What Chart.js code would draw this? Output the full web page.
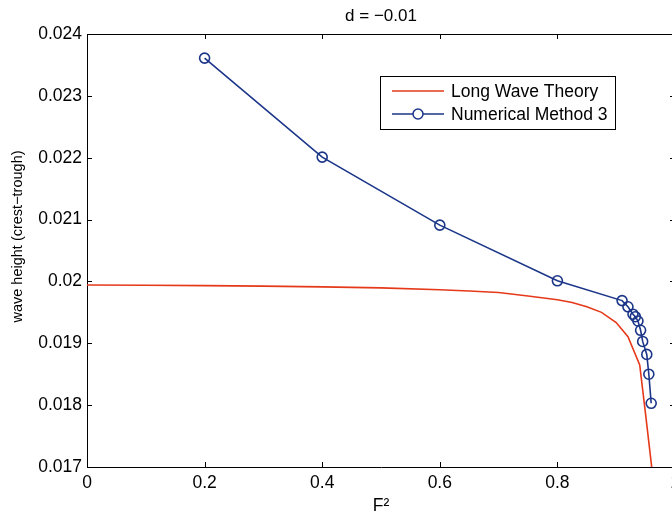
<!DOCTYPE html>
<html>
<head>
<meta charset="utf-8">
<script src="https://cdn.jsdelivr.net/npm/chart.js@4.4.1/dist/chart.umd.min.js"></script>
<style>
  html, body { margin: 0; padding: 0; background: #fff; overflow: hidden; }
  canvas { display: block; }
</style>
</head>
<body>
<canvas id="grafico" width="690" height="519"></canvas>
<script>
// long wave theory curve
const lwtF2 = [0, 0.1, 0.2, 0.3, 0.4, 0.5, 0.6, 0.65, 0.7, 0.75, 0.8, 0.825, 0.85, 0.875, 0.9, 0.92, 0.94, 0.95, 0.96, 0.962];
const lwtHeight = [0.019942, 0.019938, 0.019932, 0.019924, 0.019912, 0.019895, 0.019865, 0.019845, 0.01982, 0.019765, 0.019705, 0.01966, 0.01959, 0.0195, 0.019335, 0.019105, 0.01865, 0.01785, 0.01703, 0.0167];

// numerical method 3 points
const nm3F2 = [0.2, 0.4, 0.6, 0.8, 0.91, 0.92, 0.9285, 0.9325, 0.937, 0.9415, 0.945, 0.952, 0.9555, 0.9595];
const nm3Height = [0.02361, 0.02201, 0.02091, 0.02001, 0.01969, 0.01959, 0.01947, 0.01943, 0.01936, 0.01921, 0.01903, 0.01882, 0.0185, 0.01803];

const xTickLabels = ['0', '0.2', '0.4', '0.6', '0.8', '1'];
const yTickLabels = ['0.017', '0.018', '0.019', '0.02', '0.021', '0.022', '0.023', '0.024'];

const RED = '#e5391a';
const BLUE = '#1b3689';
const FONT = 'Liberation Sans, Arial, sans-serif';

const pares = (xs, ys) => xs.map((x, i) => ({ x: x, y: ys[i] }));

// ticks para dentro + caixa + legenda + rotulo y (estilo matlab)
const estiloMatlab = {
  id: 'estiloMatlab',
  afterDraw(chart) {
    const ctx = chart.ctx;
    const ca = chart.chartArea;
    const sx = chart.scales.x, sy = chart.scales.y;
    const len = 5;
    ctx.save();
    ctx.strokeStyle = '#000';
    ctx.lineWidth = 1;
    ctx.beginPath();
    ctx.moveTo(ca.left, ca.top + 0.5);
    ctx.lineTo(ca.right, ca.top + 0.5);
    ctx.moveTo(ca.right - 0.5, ca.top);
    ctx.lineTo(ca.right - 0.5, ca.bottom);
    sx.ticks.forEach(t => {
      const px = Math.round(sx.getPixelForValue(t.value)) + 0.5;
      ctx.moveTo(px, ca.bottom); ctx.lineTo(px, ca.bottom - len);
      ctx.moveTo(px, ca.top); ctx.lineTo(px, ca.top + len);
    });
    sy.ticks.forEach(t => {
      const py = Math.round(sy.getPixelForValue(t.value)) + 0.5;
      ctx.moveTo(ca.left, py); ctx.lineTo(ca.left + len, py);
      ctx.moveTo(ca.right, py); ctx.lineTo(ca.right - len, py);
    });
    ctx.stroke();

    // rotulo do eixo y
    ctx.save();
    ctx.translate(18, (ca.top + ca.bottom) / 2 - 14);
    ctx.rotate(-Math.PI / 2);
    ctx.fillStyle = '#000';
    ctx.font = '14.5px ' + FONT;
    ctx.textAlign = 'center';
    ctx.textBaseline = 'middle';
    ctx.fillText('wave height (crest\u2212trough)', 0, 0);
    ctx.restore();

    // legenda
    const bx = ca.left + 293, by = ca.top + 42, bw = 235, bh = 53;
    ctx.fillStyle = '#fff';
    ctx.fillRect(bx, by, bw, bh);
    ctx.strokeRect(bx + 0.5, by + 0.5, bw, bh);
    ctx.font = '17.5px ' + FONT;
    ctx.textBaseline = 'middle';
    chart.data.datasets.forEach((ds, i) => {
      const ly = by + 15 + i * 23;
      ctx.strokeStyle = ds.borderColor;
      ctx.lineWidth = 1.5;
      ctx.beginPath();
      ctx.moveTo(bx + 12, ly);
      ctx.lineTo(bx + 64, ly);
      ctx.stroke();
      if (ds.pointRadius > 0) {
        ctx.beginPath();
        ctx.arc(bx + 38, ly, ds.pointRadius, 0, Math.PI * 2);
        ctx.fillStyle = '#fff';
        ctx.fill();
        ctx.stroke();
      }
      ctx.fillStyle = '#000';
      ctx.fillText(ds.label, bx + 71, ly + 1);
    });
    ctx.restore();
  }
};

const ctx = document.getElementById('grafico').getContext('2d');

const grafico = new Chart(ctx, {
  type: 'line',
  data: {
    datasets: [{
      label: 'Long Wave Theory',
      data: pares(lwtF2, lwtHeight),
      borderColor: RED,
      borderWidth: 1.6,
      pointRadius: 0,
      tension: 0,
      fill: false
    }, {
      label: 'Numerical Method 3',
      data: pares(nm3F2, nm3Height),
      borderColor: BLUE,
      borderWidth: 1.6,
      pointRadius: 5,
      pointBorderWidth: 1.6,
      pointBackgroundColor: 'rgba(0,0,0,0)',
      pointBorderColor: BLUE,
      tension: 0,
      fill: false
    }]
  },
  options: {
    responsive: false,
    animation: false,
    layout: { padding: { left: 0, right: 15, top: 0, bottom: 0 } },
    plugins: {
      legend: { display: false },
      tooltip: { enabled: false },
      title: {
        display: true,
        text: 'd = \u22120.01',
        fullSize: false,
        color: '#000',
        font: { family: FONT, size: 17, weight: 'normal' },
        padding: { top: 6, bottom: 7.6 }
      }
    },
    scales: {
      x: {
        type: 'linear',
        min: 0,
        max: 1,
        grid: { display: false, drawTicks: false },
        border: { display: true, color: '#000', width: 1 },
        ticks: {
          stepSize: 0.2,
          padding: 6,
          color: '#000',
          font: { family: FONT, size: 17.5 },
          maxRotation: 0,
          callback: (v) => xTickLabels[Math.round(v / 0.2)]
        },
        title: {
          display: true,
          text: 'F\u00b2',
          color: '#000',
          font: { family: FONT, size: 17.5, lineHeight: 1 }
        },
        afterFit: (s) => { s.height = 52; }
      },
      y: {
        type: 'linear',
        min: 0.017,
        max: 0.024,
        grid: { display: false, drawTicks: false },
        border: { display: true, color: '#000', width: 1 },
        ticks: {
          stepSize: 0.001,
          padding: 5,
          color: '#000',
          font: { family: FONT, size: 17.5 },
          callback: (v) => yTickLabels[Math.round((v - 0.017) / 0.001)]
        },
        afterFit: (s) => { s.width = 87; }
      }
    }
  },
  plugins: [estiloMatlab]
});
</script>
</body>
</html>
